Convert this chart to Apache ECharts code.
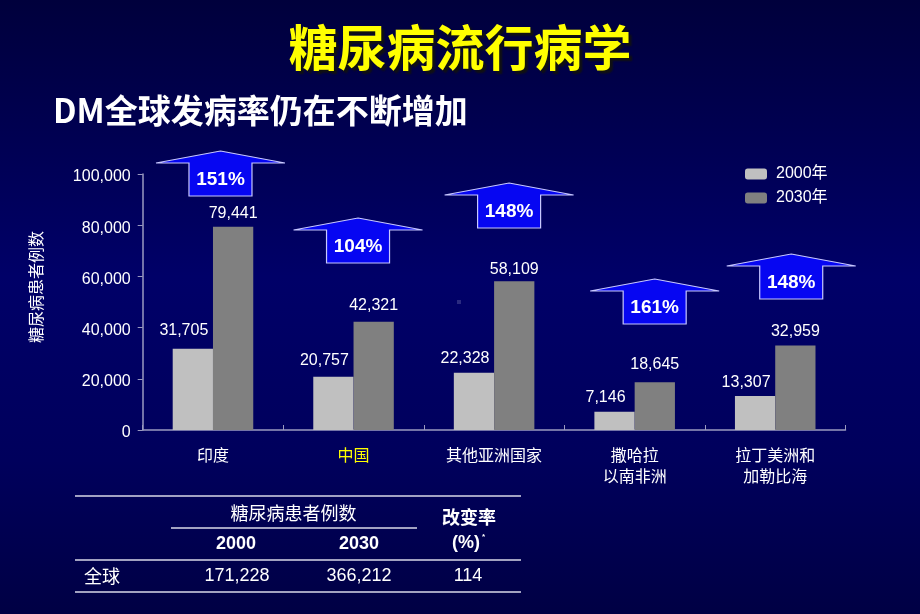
<!DOCTYPE html>
<html>
<head>
<meta charset="utf-8">
<script src="https://cdn.jsdelivr.net/npm/echarts@6/dist/echarts.min.js"></script>
<style>
html,body{margin:0;padding:0;background:#000050;}
#main{width:920px;height:614px;}
</style>
</head>
<body>
<div id="main"></div>
<script>
// ---- data ----
var categories = ['印度', '中国', '其他亚洲国家', '撒哈拉\n以南非洲', '拉丁美洲和\n加勒比海'];
var seriesNames = ['2000年', '2030年'];
var values2000 = [31705, 20757, 22328, 7146, 13307];
var values2030 = [79441, 42321, 58109, 18645, 32959];
var increasePct = ['151%', '104%', '148%', '161%', '148%'];
var yTicks = [0, 20000, 40000, 60000, 80000, 100000];
var yAxisTitle = '糖尿病患者例数';
var tableHeader = ['糖尿病患者例数', '2000', '2030', '改变率', '(%)'];
var tableRowLabel = '全球';
var tableRow = ['171,228', '366,212', '114'];

// ---- layout (pixels, not data) ----
var label2000Dist = [10, 8, 6, 6, 5];
var label2030Dist = [5, 8, 4, 10, 6];
var arrowDx = [7.5, 4.5, 15, 20, 16];
var arrowTipY = [151, 218, 183, 279, 254];

var FONT = '"Liberation Sans", Arial, "Noto Sans CJK SC", sans-serif';
var CJK = '"Noto Sans CJK SC", "Liberation Sans", sans-serif';

function mk(vals, dists, offX) {
  return vals.map(function (v, i) {
    return { value: v, label: { distance: dists[i], offset: [offX, 0] } };
  });
}
function txt(x, y, s, font, align) {
  return { type: 'text', x: x, y: y, style: { text: s, fill: '#ffffff', font: font, align: align || 'center', verticalAlign: 'middle' } };
}
function hline(x1, x2, y) {
  return { type: 'line', shape: { x1: x1, y1: y, x2: x2, y2: y }, style: { stroke: '#d8d8e8', lineWidth: 1.5 } };
}

var chart = echarts.init(document.getElementById('main'));
chart.setOption({
  backgroundColor: new echarts.graphic.LinearGradient(0, 0, 0, 1, [
    { offset: 0, color: '#00003c' },
    { offset: 0.45, color: '#000068' },
    { offset: 0.75, color: '#00005c' },
    { offset: 1, color: '#000044' }
  ]),
  animation: false,
  title: [
    {
      text: '糖尿病流行病学', left: 'center', top: 18,
      textStyle: { color: '#ffff00', fontSize: 49, fontWeight: 'bold', fontFamily: CJK,
        textShadowColor: '#111111', textShadowOffsetX: 3, textShadowOffsetY: 3, textShadowBlur: 2 }
    },
    {
      text: 'DM全球发病率仍在不断增加', left: 48, top: 89,
      textStyle: { color: '#ffffff', fontSize: 33, fontWeight: 'bold', fontFamily: CJK }
    }
  ],
  legend: {
    data: seriesNames, orient: 'vertical', left: 740, top: 160,
    itemWidth: 22, itemHeight: 11, itemGap: 6,
    textStyle: { color: '#ffffff', fontSize: 16, fontFamily: FONT, lineHeight: 18, padding: [0, 0, 0, 4] }
  },
  grid: { left: 142.7, right: 74.5, top: 174, bottom: 184 },
  xAxis: {
    type: 'category', data: categories,
    axisLine: { lineStyle: { color: '#9a9ac0', width: 1.5 } },
    axisTick: { show: true, inside: true, length: 5, lineStyle: { color: '#9a9ac0' } },
    axisLabel: {
      fontSize: 16, fontFamily: CJK, lineHeight: 21, margin: 14,
      color: function (v, i) { return i === 1 ? '#ffff00' : '#ffffff'; }
    }
  },
  yAxis: {
    type: 'value', min: 0, max: 100000, interval: 20000,
    axisLine: { show: true, lineStyle: { color: '#9a9ac0', width: 1.5 } },
    axisTick: { show: true, length: 5, lineStyle: { color: '#9a9ac0' } },
    splitLine: { show: false },
    axisLabel: {
      color: '#ffffff', fontSize: 16, fontFamily: FONT, margin: 12,
      formatter: function (v) { return yTicks.indexOf(v) >= 0 ? '{a|' + v.toLocaleString('en-US') + '}' : ''; },
      rich: { a: { color: '#ffffff', fontSize: 16, fontFamily: FONT, padding: [6, 0, 0, 0] } }
    }
  },
  series: [
    {
      name: seriesNames[0], type: 'bar', data: mk(values2000, label2000Dist, -9),
      barGap: '0%', barCategoryGap: '42.7%',
      itemStyle: { color: '#c0c0c0' },
      label: { show: true, position: 'top', color: '#ffffff', fontSize: 16, fontFamily: FONT,
        formatter: function (p) { return p.value.toLocaleString('en-US'); } }
    },
    {
      name: seriesNames[1], type: 'bar', data: mk(values2030, label2030Dist, 0),
      barGap: '0%', barCategoryGap: '42.7%',
      itemStyle: { color: '#808080' },
      label: { show: true, position: 'top', color: '#ffffff', fontSize: 16, fontFamily: FONT,
        formatter: function (p) { return p.value.toLocaleString('en-US'); } }
    },
    {
      type: 'custom', name: 'arrows', silent: true, z: 10,
      data: increasePct.map(function (t, i) { return [i, 0, t]; }),
      renderItem: function (params, api) {
        var i = params.dataIndex;
        var cx = api.coord([i, 0])[0] + arrowDx[i];
        var t = arrowTipY[i];
        var hw = 64.5, sw = 31.5, hh = 12, sh = 33;
        var pts = [[cx, t], [cx + hw, t + hh], [cx + sw, t + hh], [cx + sw, t + hh + sh],
          [cx - sw, t + hh + sh], [cx - sw, t + hh], [cx - hw, t + hh]];
        return {
          type: 'group',
          children: [
            { type: 'polygon', shape: { points: pts },
              style: { fill: '#0606f2', stroke: '#c8c8ff', lineWidth: 1.2 } },
            { type: 'text', x: cx, y: t + hh + sh / 2 + 0.5,
              style: { text: increasePct[i], fill: '#ffffff', font: 'bold 19px ' + FONT,
                align: 'center', verticalAlign: 'middle' } }
          ]
        };
      }
    }
  ],
  graphic: [
    { type: 'rect', shape: { x: 457, y: 300, width: 4, height: 4 }, style: { fill: '#2a2a80' } },
    { type: 'text', x: 36, y: 287, rotation: Math.PI / 2,
      style: { text: yAxisTitle, fill: '#ffffff', font: '16px ' + CJK, align: 'center', verticalAlign: 'middle' } },
    // table lines
    hline(75, 521, 496),
    hline(171, 417, 528),
    hline(75, 521, 560),
    hline(75, 521, 592),
    // table texts
    txt(293.5, 513, tableHeader[0], '18px ' + CJK),
    txt(236, 544, tableHeader[1], 'bold 18px ' + FONT),
    txt(359, 544, tableHeader[2], 'bold 18px ' + FONT),
    txt(469, 517, tableHeader[3], 'bold 18px ' + CJK),
    txt(466, 543, tableHeader[4], 'bold 18px ' + FONT),
    txt(482, 537, '*', 'bold 8px ' + FONT, 'left'),
    txt(84, 576, tableRowLabel, '18px ' + CJK, 'left'),
    txt(237, 576, tableRow[0], '18px ' + FONT),
    txt(359, 576, tableRow[1], '18px ' + FONT),
    txt(468, 576, tableRow[2], '18px ' + FONT)
  ]
});
</script>
</body>
</html>
